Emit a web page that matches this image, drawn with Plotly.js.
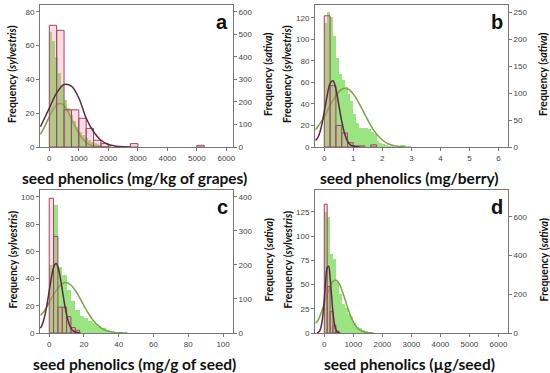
<!DOCTYPE html>
<html><head><meta charset="utf-8">
<script src="https://cdn.plot.ly/plotly-3.0.1.min.js"></script>
<style>html,body{margin:0;padding:0;background:#fff}#chart{width:550px;height:373px}</style>
</head><body><div id="chart"></div>
<script>
// ---------- Panel a : mg/kg of grapes ----------
const aSylCenters = [125, 375, 625, 875, 1125, 1375, 1625, 1875, 2875, 5125];
const aSylCounts  = [72, 69, 22, 22, 17, 11, 4, 2, 2, 1];
const aSatCenters = [50,150,250,350,450,550,650,750,850,950,1050,1150,1250,1350,1450,1550,1650,1750,1850,1950,2050,2150];
const aSatCounts  = [510,470,400,330,270,210,175,140,115,90,65,52,40,30,24,17,12,8,5,3,2,1];
const aSylCurveX = [-300,0,250,500,750,1000,1250,1500,1750,2000,2250,2500,2750];
const aSylCurveY = [12,23,32,37,36,29,17,9,4,1.5,0.5,0.1,0];
const aSatCurveX = [-300,-150,0,150,300,450,600,750,900,1050,1200,1350,1500,1700,1900,2100];
const aSatCurveY = [56,93,134,171,192,190,165,126,85,50,26,12,5,1.2,0.3,0];

// ---------- Panel b : mg/berry ----------
const bSylCenters = [0.1, 0.3, 0.5, 0.7, 0.9, 1.1, 1.3, 1.7];
const bSylCounts  = [122, 57, 20, 13, 4, 1, 1, 2];
const bSatCenters = [0.05,0.15,0.25,0.35,0.45,0.55,0.65,0.75,0.85,0.95,1.05,1.15,1.25,1.35,1.45,1.55,1.65,1.75,1.85,1.95,2.05,2.15,2.25,2.35,2.45,2.55,2.65,2.75,2.85,2.95];
const bSatCounts  = [230,250,240,205,165,135,125,112,98,85,62,45,36,35,35,33,28,25,12,8,5,3,2,1,0,1,3,4,2,1];
const bSylCurveX = [-0.3,-0.2,-0.1,0,0.1,0.2,0.3,0.4,0.5,0.6,0.7,0.8,0.9,1.0,1.1,1.2];
const bSylCurveY = [6,10,19,33,48,59,61.5,54,39,24,12.6,5.4,2,0.7,0.2,0];
const bSatCurveX = [-0.3,0,0.2,0.4,0.6,0.8,1.0,1.2,1.4,1.6,1.8,2.0,2.2,2.4,2.6,2.8];
const bSatCurveY = [32,56,77,95,107,108,98,81,60,40,24,13,6,2.5,1,0];

// ---------- Panel c : mg/g of seed ----------
const cSylCenters = [1.25, 3.75, 6.25, 8.75, 11.25, 13.75, 16.25];
const cSylCounts  = [99, 71, 19, 19, 12, 4, 2];
const cSatCenters = [1.25,3.75,6.25,8.75,11.25,13.75,16.25,18.75,21.25,23.75,26.25,28.75,31.25,33.75,36.25,38.75,41.25];
const cSatCounts  = [200,375,195,170,125,95,68,50,45,35,28,22,14,8,5,3,2];
const cSylCurveX = [-5,-4,-3,-2,-1,0,1,2,3,4,5,6,7,8,9,10,11,12,13,14,15,16,18];
const cSylCurveY = [3.5,6.2,10.3,15.9,23,31,38.9,45.6,49.9,51,48.6,43.2,35.8,27.7,20,13.5,8.5,5,2.7,1.4,0.7,0.3,0];
const cSatCurveX = [-5,-2.5,0,2.5,5,7.5,10,12.5,15,17.5,20,22.5,25,27.5,30,32.5,35,37.5,40,42.5,45];
const cSatCurveY = [52,67,90,113,132,145,148,141,125,104,80,58,39,25,14,8,4,1.8,0.8,0.3,0];

// ---------- Panel d : µg/seed ----------
const dSylCenters = [50, 150, 250, 350, 450];
const dSylCounts  = [133, 48, 22, 8, 2];
const dSatCenters = [50,150,250,350,450,550,650,750,850,950,1050,1150,1250,1350,1450,1550];
const dSatCounts  = [625,600,410,380,265,200,150,128,100,84,50,33,25,16,12,6];
const dSylCurveX = [-250,-200,-150,-100,-50,0,50,100,150,200,250,300,350,400,450,500,550];
const dSylCurveY = [0.2,0.8,2.7,7.9,18,35,54,67.5,69,57,39,21,9.5,3.4,1,0.3,0];
const dSatCurveX = [-300,-200,-100,0,100,200,300,400,500,600,700,800,900,1000,1100,1200,1300,1400,1500,1600,1700];
const dSatCurveY = [50,69,107,152,199,240,267,274,258,225,180,133,91,57,33,18,9,4,1.5,0.5,0];

// ---------- labels ----------
const panelLetters = ['a', 'b', 'c', 'd'];
const xTitles = ['seed phenolics (mg/kg of grapes)', 'seed phenolics (mg/berry)', 'seed phenolics (mg/g of seed)', 'seed phenolics (µg/seed)'];
const leftTitle = 'Frequency (<i>sylvestris</i>)';
const rightTitle = 'Frequency (<i>sativa</i>)';

// ---------- styling / geometry ----------
const W = 550, H = 373;
const SAT_FILL = 'rgba(125,222,95,0.78)';
const SYL_FILL = 'rgba(236,130,150,0.28)';
const SYL_LINE = '#9a4866';
const SYL_CURVE = '#5a2947';
const SAT_CURVE = '#7ea24e';
const tickFont = {family: 'Liberation Sans, Arial, sans-serif', size: 8, color: '#444'};
const titleFamily = 'Lato, Open Sans, sans-serif';

const panels = [
  {syl:[aSylCenters,aSylCounts,250], sat:[aSatCenters,aSatCounts,100], sylC:[aSylCurveX,aSylCurveY], satC:[aSatCurveX,aSatCurveY],
   px:[40,233], py:[5,147], xr:[-315,6225], xd:1000, lr:[0,84], ld:20, rr:[0,630], rd:100},
  {syl:[bSylCenters,bSylCounts,0.2], sat:[bSatCenters,bSatCounts,0.1], sylC:[bSylCurveX,bSylCurveY], satC:[bSatCurveX,bSatCurveY],
   px:[315,508], py:[5,147], xr:[-0.32,6.33], xd:1, lr:[0,132], ld:20, rr:[0,263], rd:50},
  {syl:[cSylCenters,cSylCounts,2.5], sat:[cSatCenters,cSatCounts,2.5], sylC:[cSylCurveX,cSylCurveY], satC:[cSatCurveX,cSatCurveY],
   px:[40,233], py:[190,333], xr:[-5.3,105.7], xd:20, lr:[0,105.1], ld:20, rr:[0,420.4], rd:100},
  {syl:[dSylCenters,dSylCounts,100], sat:[dSatCenters,dSatCounts,100], sylC:[dSylCurveX,dSylCurveY], satC:[dSatCurveX,dSatCurveY],
   px:[315,508], py:[190,333], xr:[-320,6330], xd:1000, lr:[0,147.7], ld:25, rr:[0,738], rd:200}
];

const axisBase = {showline:true, linecolor:'#777', linewidth:1, ticks:'outside', ticklen:3, tickcolor:'#777',
  showgrid:false, zeroline:false, tickfont:tickFont, fixedrange:true};

const traces = [];
const layout = {width:W, height:H, margin:{l:0,r:0,t:0,b:0}, paper_bgcolor:'#fff', plot_bgcolor:'#fff',
  showlegend:false, barmode:'overlay', bargap:0, annotations:[]};

panels.forEach((p, i) => {
  const xn = i + 1;
  const xa = xn === 1 ? 'x' : 'x' + xn;
  const yBase = 2 * i + 1, yOver = 2 * i + 2;
  const ya = yBase === 1 ? 'y' : 'y' + yBase;
  const yo = 'y' + yOver;
  const xdom = [p.px[0] / W, p.px[1] / W];
  const ydom = [1 - p.py[1] / H, 1 - p.py[0] / H];
  layout['xaxis' + (xn === 1 ? '' : xn)] = Object.assign({}, axisBase, {domain:xdom, range:p.xr, dtick:p.xd, tick0:0, anchor:ya, mirror:true});
  // base axis: sativa (right side)
  layout['yaxis' + (yBase === 1 ? '' : yBase)] = Object.assign({}, axisBase, {domain:ydom, range:p.rr, dtick:p.rd, anchor:xa, side:'right'});
  // overlay axis: sylvestris (left side)
  layout['yaxis' + yOver] = Object.assign({}, axisBase, {range:p.lr, dtick:p.ld, anchor:xa, overlaying:ya, side:'left'});

  traces.push({type:'bar', x:p.sat[0], y:p.sat[1], width:p.sat[2], xaxis:xa, yaxis:ya,
    marker:{color:SAT_FILL, line:{width:0}}, hoverinfo:'skip'});
  traces.push({type:'scatter', mode:'lines', x:p.satC[0], y:p.satC[1], xaxis:xa, yaxis:ya,
    line:{color:SAT_CURVE, width:1.5, shape:'spline', smoothing:1}, hoverinfo:'skip'});
  traces.push({type:'bar', x:p.syl[0], y:p.syl[1], width:p.syl[2], xaxis:xa, yaxis:yo,
    marker:{color:SYL_FILL, line:{color:SYL_LINE, width:1}}, hoverinfo:'skip'});
  traces.push({type:'scatter', mode:'lines', x:p.sylC[0], y:p.sylC[1], xaxis:xa, yaxis:yo,
    line:{color:SYL_CURVE, width:1.5, shape:'spline', smoothing:1}, hoverinfo:'skip'});

  const yc = (p.py[0] + p.py[1]) / 2 - 2;
  // left title
  layout.annotations.push({xref:'paper', yref:'paper', x:(p.px[0] - 28) / W, y:1 - yc / H, text:'<b>' + leftTitle + '</b>',
    textangle:-90, showarrow:false, font:{family:titleFamily, size:10.5, color:'#111'}, xanchor:'center', yanchor:'middle'});
  // right title
  layout.annotations.push({xref:'paper', yref:'paper', x:(p.px[1] + 35) / W, y:1 - yc / H, text:'<b>' + rightTitle + '</b>',
    textangle:-90, showarrow:false, font:{family:titleFamily, size:10.5, color:'#111'}, xanchor:'center', yanchor:'middle'});
  // x title
  layout.annotations.push({xref:'paper', yref:'paper', x:(p.px[0] + p.px[1]) / 2 / W - 0.004, y:1 - (p.py[1] + 31) / H,
    text:'<b>' + xTitles[i] + '</b>', showarrow:false, font:{family:titleFamily, size:15.5, color:'#111'}, xanchor:'center', yanchor:'middle'});
  // panel letter
  layout.annotations.push({xref:'paper', yref:'paper', x:(p.px[1] - 11) / W, y:1 - (p.py[0] + 17) / H,
    text:'<b>' + panelLetters[i] + '</b>', showarrow:false, font:{family:'Liberation Sans, Arial, sans-serif', size:20, color:'#111'},
    xanchor:'center', yanchor:'middle'});
});

Plotly.newPlot('chart', traces, layout, {displayModeBar:false, staticPlot:true});
</script>
</body></html>
